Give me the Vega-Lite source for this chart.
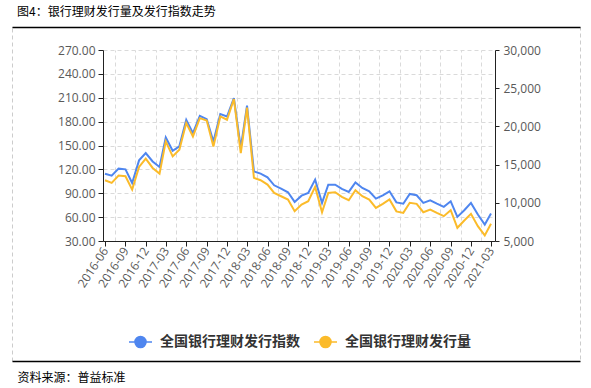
{
  "$schema": "https://vega.github.io/schema/vega-lite/v6.json",
  "width": 568,
  "height": 334,
  "autosize": {"type": "none"},
  "padding": {"left": 12, "top": 27, "right": 11, "bottom": 27},
  "background": "white",
  "title": {
    "text": "图4：银行理财发行量及发行指数走势",
    "anchor": "start",
    "frame": "group",
    "dx": 5,
    "offset": 8,
    "font": "Noto Sans CJK SC",
    "fontSize": 12,
    "fontWeight": "normal",
    "color": "#000000"
  },
  "config": {
    "view": {"stroke": "#cccccc", "strokeDash": [4, 3], "strokeWidth": 1},
    "axis": {
      "labelFont": "Open Sans",
      "labelFontSize": 12,
      "labelColor": "#595959",
      "domainColor": "#222222",
      "tickColor": "#222222",
      "gridColor": "#dadada",
      "gridDash": [4, 3]
    }
  },
  "datasets": {
    "main": [
      {"date": "2016-06-01", "index": 114.6, "volume": 12950},
      {"date": "2016-07-01", "index": 112.1, "volume": 12600},
      {"date": "2016-08-01", "index": 120.9, "volume": 13560},
      {"date": "2016-09-01", "index": 120.0, "volume": 13470},
      {"date": "2016-10-01", "index": 102.9, "volume": 11730},
      {"date": "2016-11-01", "index": 131.3, "volume": 14690},
      {"date": "2016-12-01", "index": 140.5, "volume": 15780},
      {"date": "2017-01-01", "index": 130.0, "volume": 14560},
      {"date": "2017-02-01", "index": 123.0, "volume": 13820},
      {"date": "2017-03-01", "index": 160.1, "volume": 18040},
      {"date": "2017-04-01", "index": 143.4, "volume": 16080},
      {"date": "2017-05-01", "index": 148.9, "volume": 16950},
      {"date": "2017-06-01", "index": 182.3, "volume": 20430},
      {"date": "2017-07-01", "index": 165.6, "volume": 18690},
      {"date": "2017-08-01", "index": 187.3, "volume": 21080},
      {"date": "2017-09-01", "index": 183.1, "volume": 20780},
      {"date": "2017-10-01", "index": 155.1, "volume": 17380},
      {"date": "2017-11-01", "index": 189.4, "volume": 21300},
      {"date": "2017-12-01", "index": 186.4, "volume": 20870},
      {"date": "2018-01-01", "index": 209.5, "volume": 23570},
      {"date": "2018-02-01", "index": 147.0, "volume": 16500},
      {"date": "2018-03-01", "index": 200.2, "volume": 22450},
      {"date": "2018-04-01", "index": 117.5, "volume": 13260},
      {"date": "2018-05-01", "index": 114.6, "volume": 12950},
      {"date": "2018-06-01", "index": 110.0, "volume": 12380},
      {"date": "2018-07-01", "index": 100.0, "volume": 11300},
      {"date": "2018-08-01", "index": 95.8, "volume": 10860},
      {"date": "2018-09-01", "index": 91.2, "volume": 10430},
      {"date": "2018-10-01", "index": 79.1, "volume": 8900},
      {"date": "2018-11-01", "index": 87.0, "volume": 9770},
      {"date": "2018-12-01", "index": 90.4, "volume": 10200},
      {"date": "2019-01-01", "index": 107.1, "volume": 12080},
      {"date": "2019-02-01", "index": 77.9, "volume": 8770},
      {"date": "2019-03-01", "index": 100.8, "volume": 11300},
      {"date": "2019-04-01", "index": 100.8, "volume": 11390},
      {"date": "2019-05-01", "index": 95.4, "volume": 10780},
      {"date": "2019-06-01", "index": 91.7, "volume": 10340},
      {"date": "2019-07-01", "index": 103.7, "volume": 11640},
      {"date": "2019-08-01", "index": 96.7, "volume": 10860},
      {"date": "2019-09-01", "index": 92.4, "volume": 10430},
      {"date": "2019-10-01", "index": 83.3, "volume": 9340},
      {"date": "2019-11-01", "index": 87.4, "volume": 9860},
      {"date": "2019-12-01", "index": 92.4, "volume": 10430},
      {"date": "2020-01-01", "index": 78.5, "volume": 8880},
      {"date": "2020-02-01", "index": 76.8, "volume": 8680},
      {"date": "2020-03-01", "index": 89.1, "volume": 10000},
      {"date": "2020-04-01", "index": 87.5, "volume": 9860},
      {"date": "2020-05-01", "index": 77.9, "volume": 8770},
      {"date": "2020-06-01", "index": 81.2, "volume": 9120},
      {"date": "2020-07-01", "index": 77.0, "volume": 8680},
      {"date": "2020-08-01", "index": 72.9, "volume": 8250},
      {"date": "2020-09-01", "index": 79.9, "volume": 9030},
      {"date": "2020-10-01", "index": 60.3, "volume": 6730},
      {"date": "2020-11-01", "index": 68.6, "volume": 7690},
      {"date": "2020-12-01", "index": 77.9, "volume": 8560},
      {"date": "2021-01-01", "index": 63.2, "volume": 6940},
      {"date": "2021-02-01", "index": 50.7, "volume": 5730},
      {"date": "2021-03-01", "index": 64.5, "volume": 7250}
    ]
  },
  "layer": [
    {
      "data": {"name": "main"},
      "mark": {"type": "line", "strokeWidth": 2},
      "encoding": {
        "x": {
          "field": "date",
          "type": "temporal",
          "scale": {
            "type": "utc",
            "domain": [{"year": 2016, "month": 5, "date": 23, "utc": true}, {"year": 2021, "month": 3, "date": 19, "utc": true}],
            "range": [91, 483]
          },
          "axis": {
            "orient": "bottom",
            "offset": -120,
            "title": null,
            "grid": false,
            "labelExpr": "utcFormat(datum.value, '%Y-%m')",
            "labelOverlap": false,
            "labelBound": false,
            "labelAngle": -57,
            "labelPadding": 2,
            "tickSize": 5,
            "values": [
              {"year": 2016, "month": 6, "date": 1, "utc": true},
              {"year": 2016, "month": 9, "date": 1, "utc": true},
              {"year": 2016, "month": 12, "date": 1, "utc": true},
              {"year": 2017, "month": 3, "date": 1, "utc": true},
              {"year": 2017, "month": 6, "date": 1, "utc": true},
              {"year": 2017, "month": 9, "date": 1, "utc": true},
              {"year": 2017, "month": 12, "date": 1, "utc": true},
              {"year": 2018, "month": 3, "date": 1, "utc": true},
              {"year": 2018, "month": 6, "date": 1, "utc": true},
              {"year": 2018, "month": 9, "date": 1, "utc": true},
              {"year": 2018, "month": 12, "date": 1, "utc": true},
              {"year": 2019, "month": 3, "date": 1, "utc": true},
              {"year": 2019, "month": 6, "date": 1, "utc": true},
              {"year": 2019, "month": 9, "date": 1, "utc": true},
              {"year": 2019, "month": 12, "date": 1, "utc": true},
              {"year": 2020, "month": 3, "date": 1, "utc": true},
              {"year": 2020, "month": 6, "date": 1, "utc": true},
              {"year": 2020, "month": 9, "date": 1, "utc": true},
              {"year": 2020, "month": 12, "date": 1, "utc": true},
              {"year": 2021, "month": 3, "date": 1, "utc": true}
            ]
          }
        },
        "y": {
          "field": "index",
          "type": "quantitative",
          "scale": {"domain": [30, 270], "range": [214, 23], "zero": false, "nice": false},
          "axis": {
            "orient": "left",
            "offset": -91,
            "title": null,
            "grid": true,
            "format": ".2f",
            "values": [30, 60, 90, 120, 150, 180, 210, 240, 270],
            "tickSize": 5,
            "labelPadding": 3
          }
        },
        "color": {
          "datum": "全国银行理财发行指数",
          "type": "nominal",
          "scale": {"domain": ["全国银行理财发行指数", "全国银行理财发行量"], "range": ["#4F86EF", "#FBBB2A"]},
          "legend": {
            "title": null,
            "orient": "none",
            "legendX": 116,
            "legendY": 302,
            "direction": "horizontal",
            "padding": 0,
            "symbolType": "M-1,0L1,0M-0.48,0A0.48,0.48,0,1,1,0.48,0A0.48,0.48,0,1,1,-0.48,0Z",
            "symbolSize": 529,
            "symbolStrokeWidth": 1.5,
            "labelFont": "Noto Sans CJK SC",
            "labelFontSize": 14,
            "labelFontWeight": "bold",
            "labelColor": "#333333",
            "labelOffset": 7,
            "columnPadding": 11,
            "encode": {
              "symbols": {
                "update": {
                  "fill": {"scale": "color", "field": "value"},
                  "stroke": {"scale": "color", "field": "value"}
                }
              }
            }
          }
        }
      }
    },
    {
      "data": {"name": "main"},
      "mark": {"type": "line", "strokeWidth": 2},
      "encoding": {
        "x": {
          "field": "date",
          "type": "temporal",
          "scale": {
            "type": "utc",
            "domain": [{"year": 2016, "month": 5, "date": 23, "utc": true}, {"year": 2021, "month": 3, "date": 19, "utc": true}],
            "range": [91, 483]
          },
          "axis": {
            "orient": "top",
            "title": null,
            "grid": true,
            "labels": false,
            "ticks": false,
            "domain": false,
            "values": [
              {"year": 2016, "month": 7, "date": 16, "utc": true},
              {"year": 2016, "month": 10, "date": 16, "utc": true},
              {"year": 2017, "month": 1, "date": 16, "utc": true},
              {"year": 2017, "month": 4, "date": 16, "utc": true},
              {"year": 2017, "month": 7, "date": 16, "utc": true},
              {"year": 2017, "month": 10, "date": 16, "utc": true},
              {"year": 2018, "month": 1, "date": 16, "utc": true},
              {"year": 2018, "month": 4, "date": 16, "utc": true},
              {"year": 2018, "month": 7, "date": 16, "utc": true},
              {"year": 2018, "month": 10, "date": 16, "utc": true},
              {"year": 2019, "month": 1, "date": 16, "utc": true},
              {"year": 2019, "month": 4, "date": 16, "utc": true},
              {"year": 2019, "month": 7, "date": 16, "utc": true},
              {"year": 2019, "month": 10, "date": 16, "utc": true},
              {"year": 2020, "month": 1, "date": 16, "utc": true},
              {"year": 2020, "month": 4, "date": 16, "utc": true},
              {"year": 2020, "month": 7, "date": 16, "utc": true},
              {"year": 2020, "month": 10, "date": 16, "utc": true},
              {"year": 2021, "month": 1, "date": 16, "utc": true}
            ]
          }
        },
        "y": {
          "field": "volume",
          "type": "quantitative",
          "scale": {"domain": [5000, 30000], "range": [214, 23], "zero": false, "nice": false},
          "axis": {
            "orient": "right",
            "offset": -85,
            "title": null,
            "grid": false,
            "format": ",.0f",
            "values": [5000, 10000, 15000, 20000, 25000, 30000],
            "tickSize": 4,
            "labelPadding": 4
          }
        },
        "color": {"datum": "全国银行理财发行量", "type": "nominal"}
      }
    },
    {
      "data": {"values": []},
      "mark": {"type": "rule"},
      "encoding": {
        "x": {
          "field": "d",
          "type": "quantitative",
          "scale": {"domain": [0, 1]},
          "axis": {
            "orient": "top",
            "title": null,
            "labels": false,
            "ticks": false,
            "grid": false,
            "domainColor": "#000000",
            "domainWidth": 1.5
          }
        }
      }
    },
    {
      "data": {"values": []},
      "mark": {"type": "rule"},
      "encoding": {
        "x": {
          "field": "d",
          "type": "quantitative",
          "scale": {"domain": [0, 1]},
          "axis": {
            "orient": "bottom",
            "labels": false,
            "ticks": false,
            "grid": false,
            "domainColor": "#000000",
            "domainWidth": 1.5,
            "title": "资料来源：普益标准",
            "titleFont": "Noto Sans CJK SC",
            "titleFontSize": 12,
            "titleFontWeight": "normal",
            "titleColor": "#000000",
            "titleAnchor": "start",
            "titleAlign": "left",
            "titleBaseline": "middle",
            "titleX": 5,
            "titleY": 16
          }
        }
      }
    }
  ],
  "resolve": {
    "scale": {"x": "independent", "y": "independent"},
    "axis": {"x": "independent", "y": "independent"}
  }
}
